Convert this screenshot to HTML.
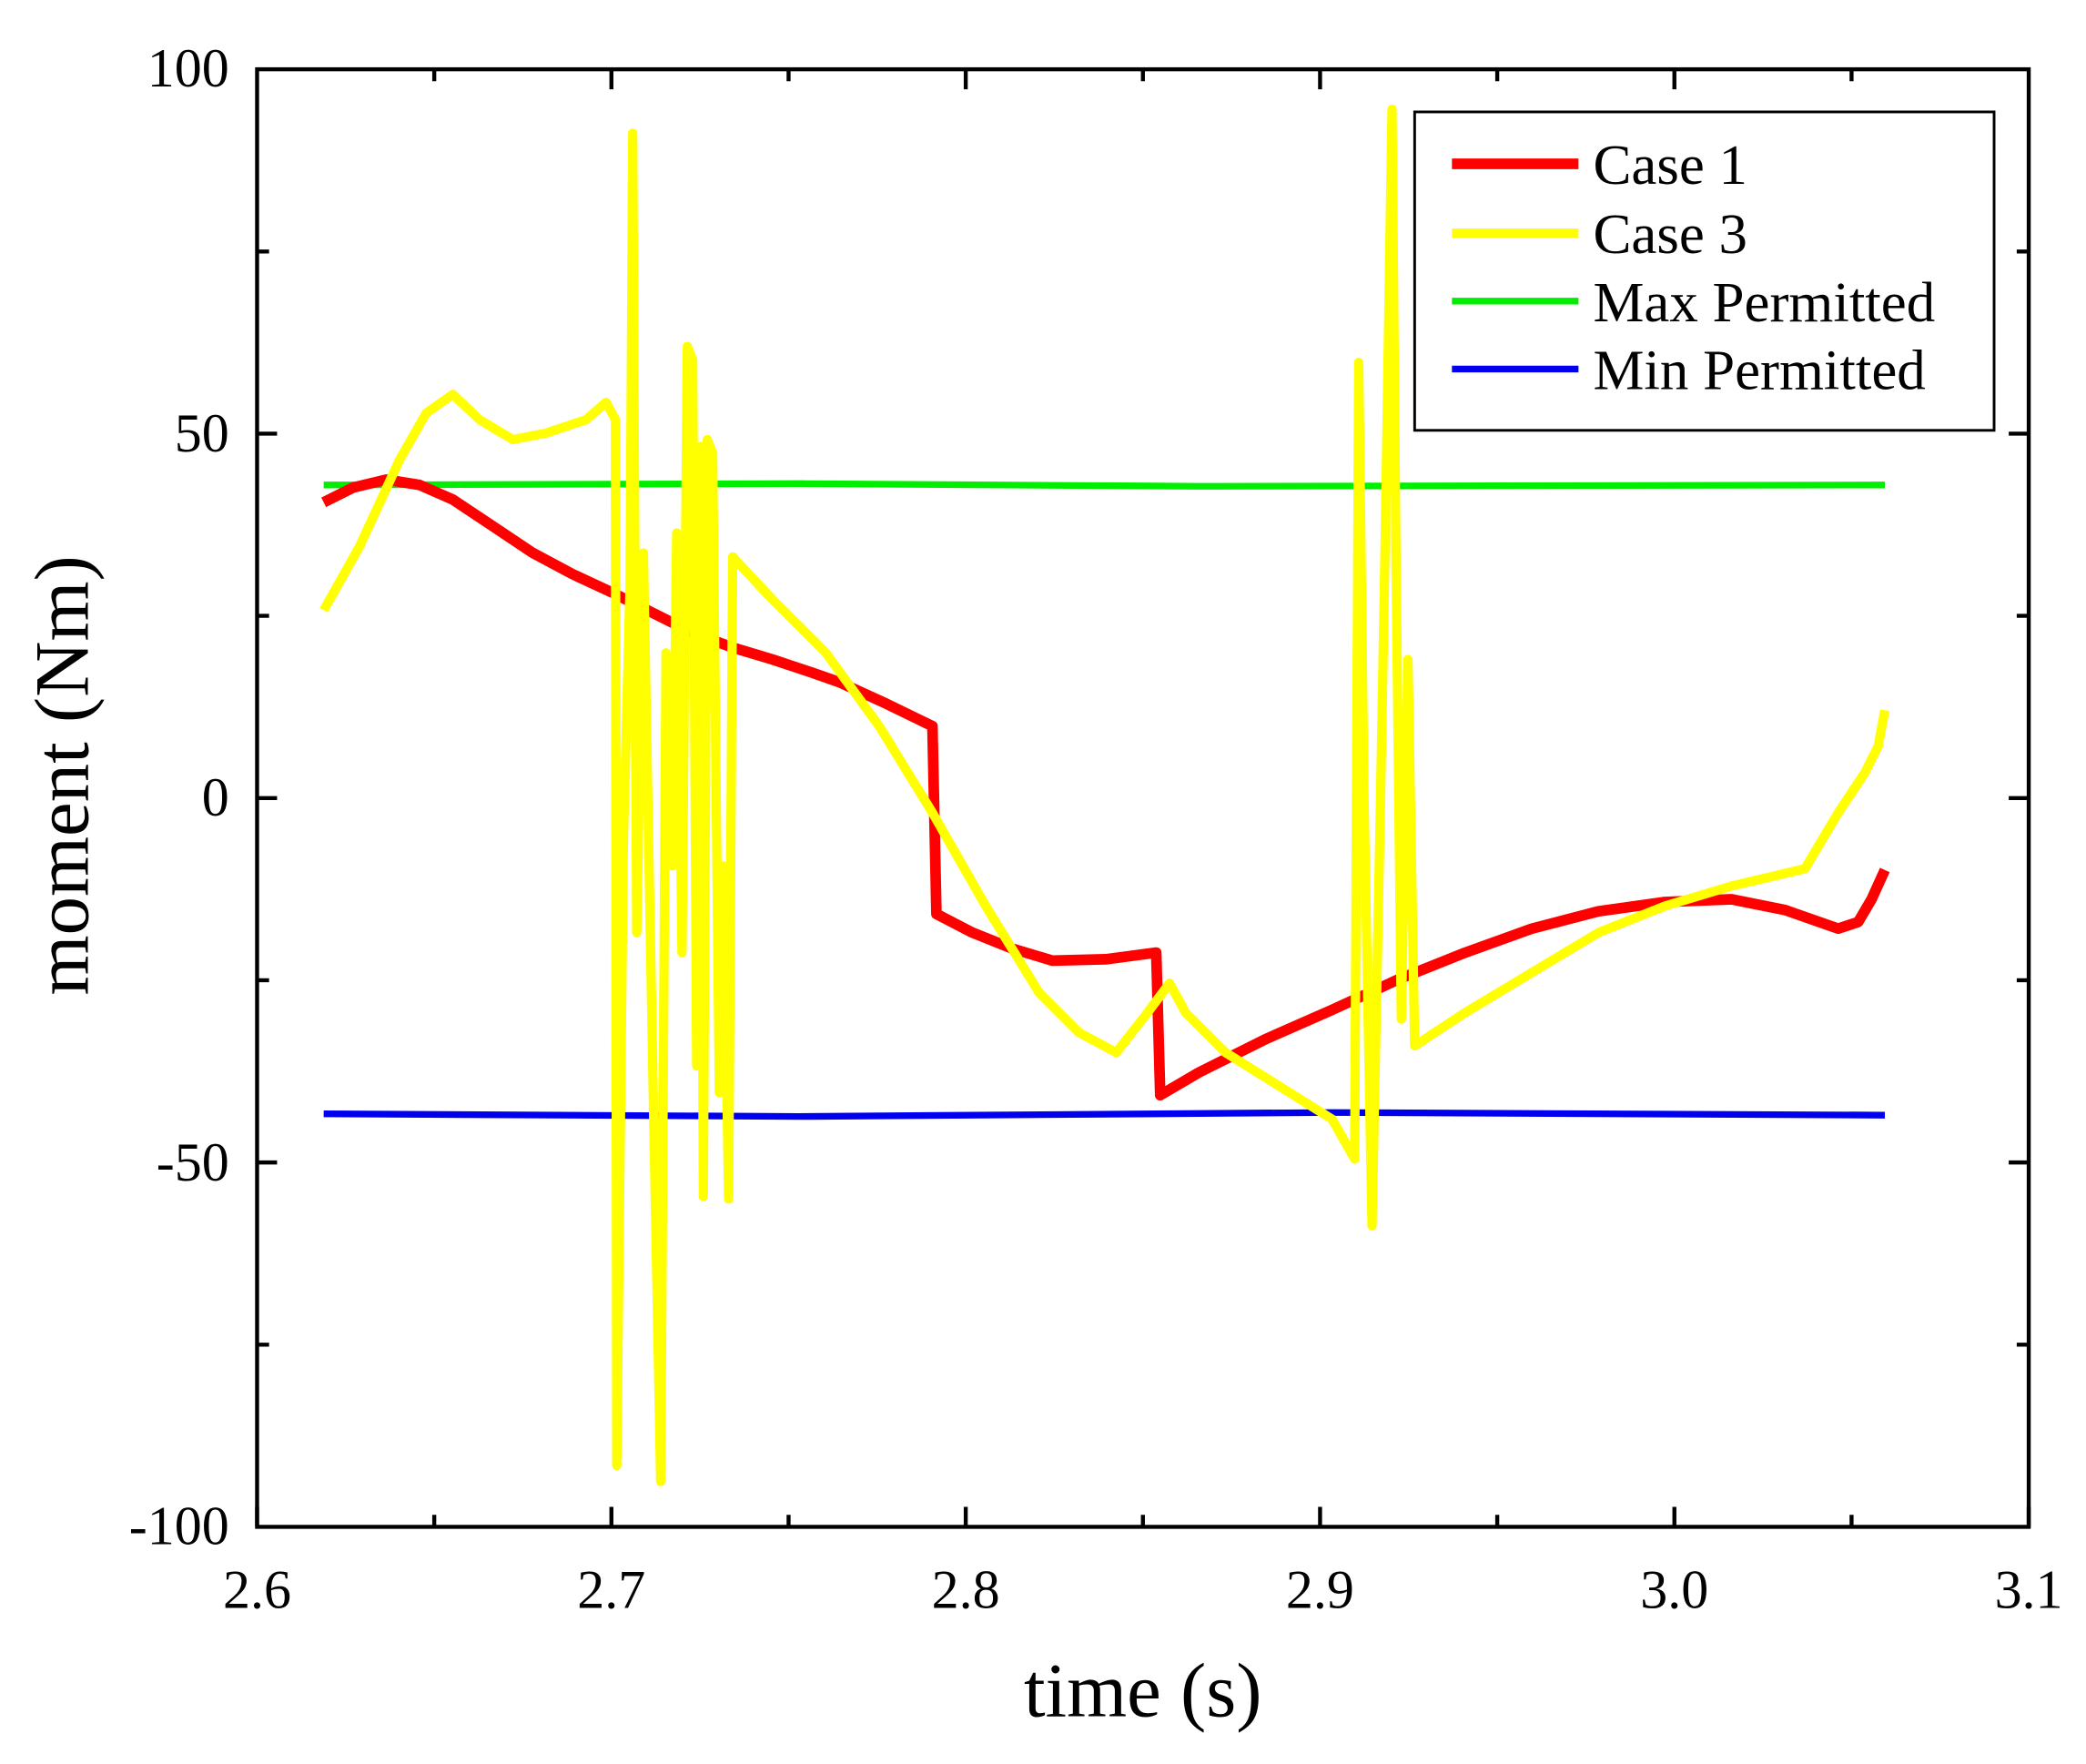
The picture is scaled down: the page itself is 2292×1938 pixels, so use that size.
<!DOCTYPE html>
<html><head><style>html,body{margin:0;padding:0;background:#fff}svg{display:block}</style></head>
<body>
<svg width="2292" height="1938" viewBox="0 0 1566 1324" preserveAspectRatio="none" xmlns="http://www.w3.org/2000/svg" font-family="Liberation Serif, serif">
<rect width="1566" height="1324" fill="#fff"/>
<g stroke="#000" stroke-width="3">
<rect x="193" y="52" width="1330" height="1094" fill="none"/>
<path d="M193,1146v-15M459,1146v-15M725,1146v-15M991,1146v-15M1257,1146v-15M1523,1146v-15
M326,1146v-9M592,1146v-9M858,1146v-9M1124,1146v-9M1390,1146v-9
M459,52v15M725,52v15M991,52v15M1257,52v15M326,52v9M592,52v9M858,52v9M1124,52v9M1390,52v9
M193,325.5h15M193,599h15M193,872.5h15M193,188.75h9M193,462.25h9M193,735.75h9M193,1009.25h9
M1523,325.5h-15M1523,599h-15M1523,872.5h-15M1523,188.75h-9M1523,462.25h-9M1523,735.75h-9M1523,1009.25h-9"/>
</g>
<g font-size="41" text-anchor="middle" fill="#000">
<text x="193" y="1207">2.6</text><text x="459" y="1207">2.7</text><text x="725" y="1207">2.8</text>
<text x="991" y="1207">2.9</text><text x="1257" y="1207">3.0</text><text x="1523" y="1207">3.1</text>
</g>
<g font-size="41" text-anchor="end" fill="#000">
<text x="172" y="65">100</text><text x="172" y="339">50</text><text x="172" y="612">0</text>
<text x="172" y="886">-50</text><text x="172" y="1159">-100</text>
</g>
<text x="858" y="1288" font-size="58" text-anchor="middle">time (s)</text>
<text transform="translate(66,582) rotate(-90)" font-size="58" text-anchor="middle">moment (Nm)</text>
<g fill="none" stroke-linejoin="round">
<polyline stroke="#00ee00" stroke-width="5" points="243,364 600,363 900,365 1415,364"/>
<polyline stroke="#0000ee" stroke-width="5" points="243,836 600,838 1000,835 1415,837"/>
<polyline stroke="#ff0000" stroke-width="8" points="243,377 265,366 290,360 315,364 340,375 370,395 400,415 430,431 460,445 490,460 520,475 550,486 580,495 610,505 630,512 665,528 700,545 703,686 730,700 760,712 790,721 830,720 868,715 871,822 900,805 950,780 1000,758 1050,735 1100,715 1150,697 1200,684 1250,677 1300,675 1340,683 1380,697 1395,692 1405,675 1415,653"/>
<polyline stroke="#ffff00" stroke-width="7" points="243,458 270,410 300,345 320,310 340,296 360,315 385,330 410,325 440,315 455,302 462,315 463,1100 468,630 473,440 475,100 478,700 483,415 490,800 496,1112 500,490 505,650 508,400 512,715 516,260 520,270 523,800 526,335 528,898 531,330 535,340 540,820 543,650 547,900 550,418 580,450 620,490 660,545 700,610 740,680 780,745 810,775 838,790 860,762 878,738 890,760 920,790 960,815 1000,840 1017,870 1020,272 1024,600 1030,920 1036,620 1040,400 1045,82 1048,420 1052,765 1057,495 1062,785 1100,760 1150,730 1200,700 1250,680 1300,665 1355,652 1380,610 1400,580 1410,560 1415,533"/>
</g>
<rect x="1062" y="84" width="435" height="239" fill="#fff" stroke="#000" stroke-width="2"/>
<g>
<line x1="1090" y1="123" x2="1185" y2="123" stroke="#ff0000" stroke-width="8"/>
<line x1="1090" y1="175" x2="1185" y2="175" stroke="#ffff00" stroke-width="7"/>
<line x1="1090" y1="226" x2="1185" y2="226" stroke="#00ee00" stroke-width="5"/>
<line x1="1090" y1="277" x2="1185" y2="277" stroke="#0000ee" stroke-width="5"/>
</g>
<g font-size="43" fill="#000">
<text x="1196" y="138">Case 1</text><text x="1196" y="190">Case 3</text>
<text x="1196" y="241">Max Permitted</text><text x="1196" y="292">Min Permitted</text>
</g>
</svg>
</body></html>
